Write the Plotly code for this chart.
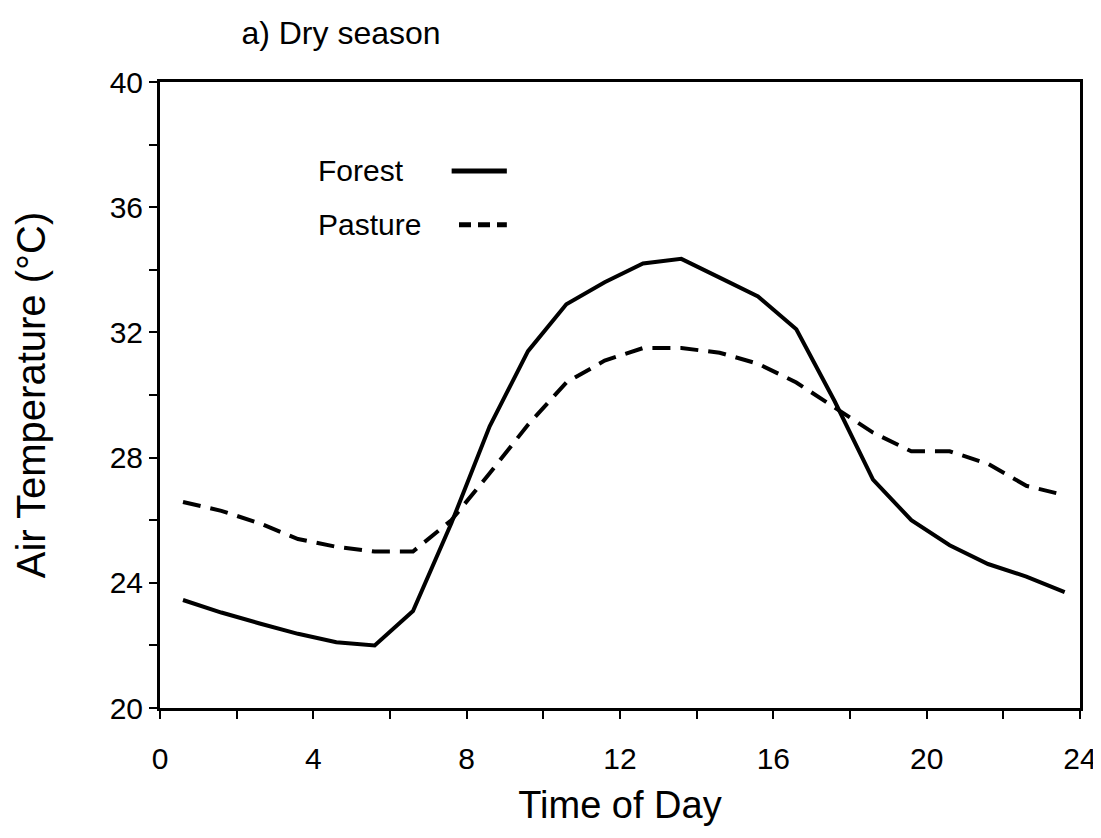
import plotly.graph_objects as go

# hour of day (readings are about every hour)
hours = [0.6, 1.6, 2.6, 3.6, 4.6, 5.6, 6.6, 7.6, 8.6, 9.6, 10.6, 11.6,
         12.6, 13.6, 14.6, 15.6, 16.6, 17.6, 18.6, 19.6, 20.6, 21.6, 22.6, 23.6]

# air temperature, deg C
forest = [23.45, 23.05, 22.7, 22.37, 22.1, 22.0, 23.1, 25.9, 29.0, 31.4, 32.9, 33.6,
          34.2, 34.35, 33.75, 33.15, 32.1, 29.8, 27.3, 26.0, 25.2, 24.6, 24.2, 23.7]
pasture = [26.58, 26.3, 25.9, 25.4, 25.15, 25.0, 25.0, 26.0, 27.5, 29.05, 30.4, 31.1,
           31.5, 31.5, 31.35, 31.0, 30.4, 29.6, 28.8, 28.2, 28.2, 27.8, 27.1, 26.8]

x_ticks = [0, 2, 4, 6, 8, 10, 12, 14, 16, 18, 20, 22, 24]
x_labels = ["0", "", "4", "", "8", "", "12", "", "16", "", "20", "", "24"]
y_ticks = [20, 22, 24, 26, 28, 30, 32, 34, 36, 38, 40]
y_labels = ["20", "", "24", "", "28", "", "32", "", "36", "", "40"]

font = "Liberation Sans, Arial, Helvetica, sans-serif"

fig = go.Figure()
fig.add_trace(go.Scatter(x=hours, y=forest, mode="lines", name="Forest",
                         line=dict(color="black", width=4)))
fig.add_trace(go.Scatter(x=hours, y=pasture, mode="lines", name="Pasture",
                         line=dict(color="black", width=4, dash="18px,10px")))

# legend drawn by hand: text on the left, line sample on the right
fig.add_annotation(x=0.170, y=0.858, xref="paper", yref="paper", text="Forest",
                   showarrow=False, xanchor="left", yanchor="middle",
                   font=dict(size=30, color="black", family=font))
fig.add_annotation(x=0.170, y=0.772, xref="paper", yref="paper", text="Pasture",
                   showarrow=False, xanchor="left", yanchor="middle",
                   font=dict(size=30, color="black", family=font))
fig.add_shape(type="line", xref="paper", yref="paper", x0=0.317, x1=0.377,
              y0=0.858, y1=0.858, line=dict(color="black", width=5))
fig.add_shape(type="line", xref="paper", yref="paper", x0=0.325, x1=0.377,
              y0=0.772, y1=0.772, line=dict(color="black", width=5, dash="12px,7px"))

fig.update_layout(
    width=1101, height=838,
    margin=dict(l=152, r=22, t=74, b=138),
    paper_bgcolor="white", plot_bgcolor="white",
    showlegend=False,
    font=dict(family=font, color="black"),
    title=dict(text="a) Dry season", x=0.212, xanchor="left", y=0.970, yanchor="middle",
               font=dict(size=32, color="black", family=font)),
)
fig.update_xaxes(range=[0, 24], tickvals=x_ticks, ticktext=x_labels,
                 showgrid=False, zeroline=False, showline=True, linecolor="black",
                 linewidth=3, mirror=True, ticks="outside", ticklen=8, tickwidth=2,
                 tickcolor="black", ticklabelstandoff=14,
                 tickfont=dict(size=30, color="black"),
                 title=dict(text="Time of Day", font=dict(size=38, color="black"),
                            standoff=18))
fig.update_yaxes(range=[20, 40], tickvals=y_ticks, ticktext=y_labels,
                 showgrid=False, zeroline=False, showline=True, linecolor="black",
                 linewidth=3, mirror=True, ticks="outside", ticklen=8, tickwidth=2,
                 tickcolor="black", tickfont=dict(size=30, color="black"),
                 title=dict(text="Air Temperature (°C)", font=dict(size=40, color="black"),
                            standoff=52))

fig.write_html("out.html")
